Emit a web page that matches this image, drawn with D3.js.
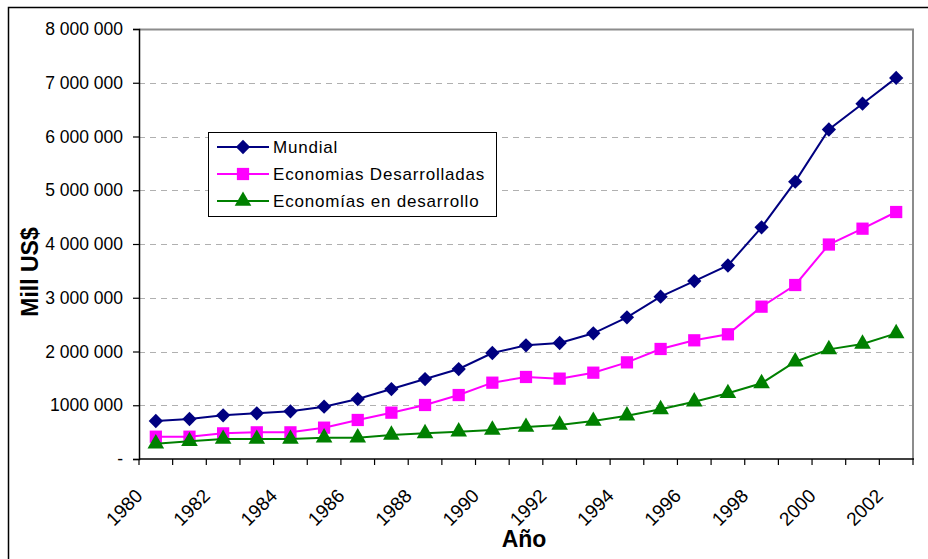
<!DOCTYPE html>
<html>
<head>
<meta charset="utf-8">
<script src="https://cdn.jsdelivr.net/npm/d3@7/dist/d3.min.js"></script>
<style>
  html, body { margin: 0; padding: 0; background: #fff; }
  svg { display: block; font-family: "Liberation Sans", Arial, sans-serif; }
</style>
</head>
<body>
<svg id="chart" width="928" height="559"></svg>
<script>
// años (categorías)
const years = d3.range(1980, 2003);
const yearLabels = years.map((y) => (y % 2 === 0 ? String(y) : ""));

// valores en millones de US$
const mundial = [
  707000, 744000, 813000, 850000, 887000, 973000, 1116000, 1302000, 1488000, 1674000,
  1972000, 2115000, 2158000, 2338000, 2636000, 3020000, 3310000, 3600000, 4310000, 5160000,
  6130000, 6610000, 7090000
];
const desarrolladas = [
  415000, 415000, 477000, 496000, 496000, 583000, 726000, 862000, 1005000, 1190000,
  1420000, 1526000, 1495000, 1606000, 1798000, 2047000, 2208000, 2320000, 2834000, 3237000,
  3990000, 4285000, 4595000
];
const enDesarrollo = [
  285000, 330000, 372000, 372000, 372000, 397000, 397000, 447000, 477000, 508000,
  540000, 595000, 633000, 707000, 806000, 924000, 1066000, 1222000, 1408000, 1810000,
  2040000, 2140000, 2338000
];

const yTicks = [0, 1000000, 2000000, 3000000, 4000000, 5000000, 6000000, 7000000, 8000000];
const yTickLabels = ["-", "1000 000", "2 000 000", "3 000 000", "4 000 000", "5 000 000", "6 000 000", "7 000 000", "8 000 000"];

const series = [
  { name: "Mundial", values: mundial, color: "#000080", marker: "diamond" },
  { name: "Economias Desarrolladas", values: desarrolladas, color: "#FF00FF", marker: "square" },
  { name: "Economías en desarrollo", values: enDesarrollo, color: "#008000", marker: "triangle" }
];

const svg = d3.select("#chart");
const plot = { left: 139, top: 29, right: 913, bottom: 459 };

// marco exterior del gráfico
svg.append("rect")
  .attr("x", 8.5).attr("y", 7.5).attr("width", 960).attr("height", 600)
  .attr("fill", "#fff").attr("stroke", "#000").attr("stroke-width", 1.5);

const x = d3.scaleBand().domain(years).range([plot.left, plot.right]);
const y = d3.scaleLinear().domain([0, 8000000]).range([plot.bottom, plot.top]);

// líneas de división
svg.append("g").selectAll("line")
  .data(yTicks.filter((t) => t > 0 && t < 8000000))
  .join("line")
  .attr("x1", plot.left).attr("x2", plot.right)
  .attr("y1", (d) => Math.round(y(d)) + 0.5).attr("y2", (d) => Math.round(y(d)) + 0.5)
  .attr("stroke", "#b0b0b0").attr("stroke-width", 1).attr("stroke-dasharray", "6,5");

// borde del área de trazado (gris arriba y derecha)
svg.append("path")
  .attr("d", `M${plot.left},${plot.top + 0.5}H${plot.right}V${plot.bottom}`)
  .attr("fill", "none").attr("stroke", "#8c8c8c").attr("stroke-width", 2);

// eje Y
const yAxis = d3.axisLeft(y).tickValues(yTicks).tickSize(6).tickPadding(10)
  .tickFormat((d, i) => yTickLabels[i]);
const gy = svg.append("g").attr("transform", `translate(${plot.left},0)`).call(yAxis);
gy.select(".domain").attr("stroke", "#000").attr("stroke-width", 1.5);
gy.selectAll(".tick line").attr("stroke", "#000").attr("stroke-width", 1.2);
gy.selectAll(".tick text").attr("font-size", 17.5).attr("fill", "#000")
  .attr("font-family", "'Liberation Sans', Arial, sans-serif");

// eje X (marcas entre categorías)
const gx = svg.append("g").attr("transform", `translate(0,${plot.bottom})`);
gx.append("line").attr("x1", plot.left).attr("x2", plot.right + 1)
  .attr("stroke", "#000").attr("stroke-width", 1.5);
gx.selectAll("line.tk")
  .data(years.concat([2003]))
  .join("line")
  .attr("class", "tk")
  .attr("x1", (d, i) => plot.left + i * x.step()).attr("x2", (d, i) => plot.left + i * x.step())
  .attr("y1", 0).attr("y2", 6)
  .attr("stroke", "#000").attr("stroke-width", 1.2);
gx.selectAll("text")
  .data(years.filter((d, i) => yearLabels[i] !== ""))
  .join("text")
  .attr("transform", (d) => `translate(${x(d) + x.bandwidth() / 2 - 12},${38}) rotate(-45)`)
  .attr("text-anchor", "end")
  .attr("font-size", 19)
  .attr("fill", "#000")
  .text((d) => yearLabels[years.indexOf(d)]);

// títulos de ejes
svg.append("text")
  .attr("x", 524).attr("y", 547)
  .attr("text-anchor", "middle").attr("font-size", 23).attr("font-weight", "bold")
  .text("Año");
svg.append("text")
  .attr("transform", "translate(38,272) rotate(-90)")
  .attr("text-anchor", "middle").attr("font-size", 23).attr("font-weight", "bold")
  .text("Mill US$");

// símbolos
const symbolFor = (m) => {
  if (m === "diamond") return d3.symbol().type(d3.symbolDiamond2).size(130)();
  if (m === "square") return d3.symbol().type(d3.symbolSquare).size(150)();
  return d3.symbol().type(d3.symbolTriangle).size(120)();
};

const cx = (i) => x(years[i]) + x.bandwidth() / 2;
const line = d3.line().x((d, i) => cx(i)).y((d) => y(d));

const gs = svg.append("g").selectAll("g").data(series).join("g");
gs.append("path")
  .attr("d", (s) => line(s.values))
  .attr("fill", "none").attr("stroke", (s) => s.color).attr("stroke-width", 2);
gs.each(function (s) {
  d3.select(this).selectAll("path.mk")
    .data(s.values)
    .join("path")
    .attr("class", "mk")
    .attr("d", symbolFor(s.marker))
    .attr("transform", (d, i) => `translate(${cx(i)},${y(d)})`)
    .attr("fill", s.color);
});

// leyenda
const lg = svg.append("g");
lg.append("rect")
  .attr("x", 208.5).attr("y", 132.5).attr("width", 288).attr("height", 84)
  .attr("fill", "#fff").attr("stroke", "#000").attr("stroke-width", 1);
const rows = lg.selectAll("g").data(series).join("g")
  .attr("transform", (s, i) => `translate(0,${147 + i * 27})`);
rows.append("line").attr("x1", 217).attr("x2", 269)
  .attr("stroke", (s) => s.color).attr("stroke-width", 2);
rows.append("path").attr("d", (s) => symbolFor(s.marker))
  .attr("transform", "translate(243,0)").attr("fill", (s) => s.color);
rows.append("text").attr("x", 273).attr("y", 6)
  .attr("font-size", 17).attr("letter-spacing", 0.8).attr("fill", "#000")
  .text((s) => s.name);
</script>
</body>
</html>
